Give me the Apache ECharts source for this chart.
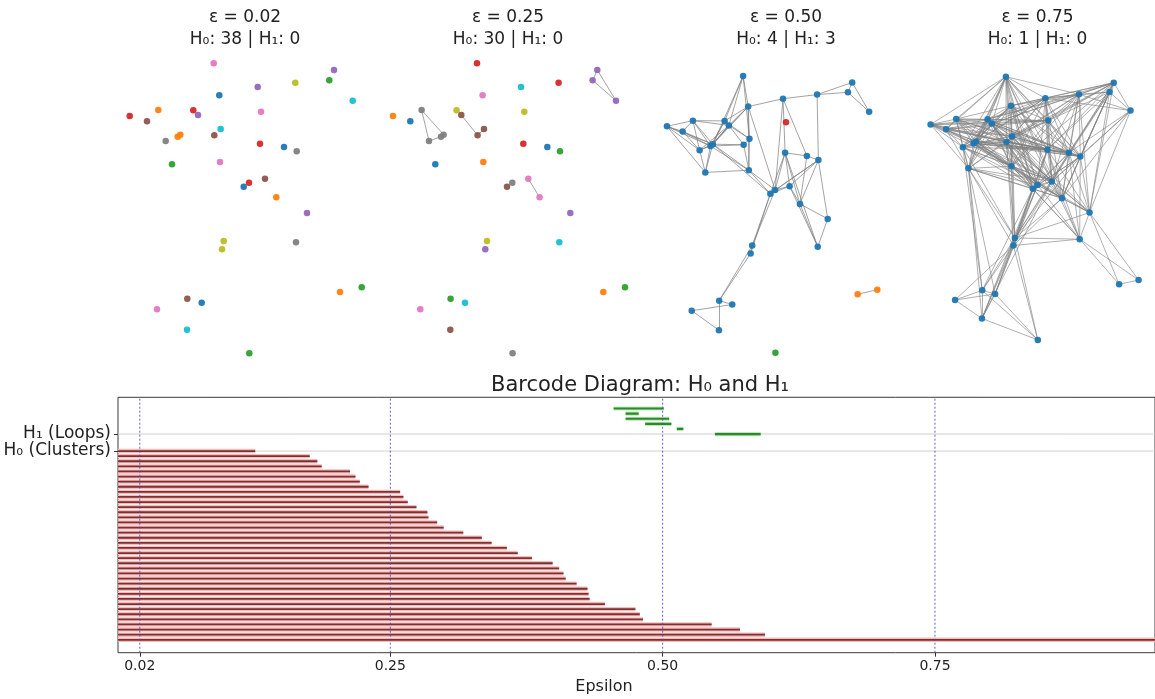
<!DOCTYPE html>
<html>
<head>
<meta charset="utf-8">
<script src="https://cdn.jsdelivr.net/npm/echarts@6/dist/echarts.min.js"></script>
<style>
  html, body { margin: 0; padding: 0; background: #fff; }
  #chart { width: 1155px; height: 699px; }
</style>
</head>
<body>
<div id="chart"></div>
<script>
const FONT = '"DejaVu Sans", sans-serif'
const TAB10 = ['#1f77b4', '#ff7f0e', '#2ca02c', '#d62728', '#9467bd', '#8c564b', '#e377c2', '#7f7f7f', '#bcbd22', '#17becf']

// 2-D layout of the 38 points (same cloud in every panel)
const points = [
  [103.7, 296.7], [224, 290], [185.3, 277.3], [219.3, 279.7], [147.7, 273],
  [109.3, 264.7], [242.7, 259.3], [19.7, 244], [37, 238.7], [48.3, 250],
  [83.3, 249.7], [88, 245], [151, 248.3], [110.7, 231], [55.7, 219],
  [67.7, 223.3], [70.3, 225.3], [104.3, 224.7], [150, 216.3], [174, 213],
  [186.7, 208.7], [62, 195.7], [110, 198], [155, 181.3], [139, 177.3],
  [133.7, 173.3], [166.3, 162.7], [197, 147], [113.7, 119], [112, 110.7],
  [186, 117.7], [230, 68], [251.7, 72.7], [77.3, 61.3], [91.7, 57.3],
  [47, 50.7], [77, 30.3], [139.3, 6.7]
]

const epsilons = [0.02, 0.25, 0.50, 0.75]

// connected-component colour (tab10 index) of each point, per epsilon
const comp002 = [6, 4, 8, 2, 4, 0, 9, 3, 5, 1, 3, 4, 6, 9, 7, 1, 1, 5, 3, 0, 7, 2, 6, 5, 3, 0, 1, 4, 8, 8, 7, 1, 2, 5, 0, 6, 9, 2]
const comp025 = [3, 4, 3, 4, 9, 6, 4, 1, 0, 7, 8, 5, 8, 5, 7, 7, 7, 5, 3, 0, 2, 0, 1, 6, 7, 5, 6, 4, 8, 4, 9, 1, 2, 2, 9, 6, 5, 7]
const comp050 = [0, 0, 0, 0, 0, 0, 0, 0, 0, 0, 0, 0, 3, 0, 0, 0, 0, 0, 0, 0, 0, 0, 0, 0, 0, 0, 0, 0, 0, 0, 0, 1, 1, 0, 0, 0, 0, 2]
const comp075 = [0, 0, 0, 0, 0, 0, 0, 0, 0, 0, 0, 0, 0, 0, 0, 0, 0, 0, 0, 0, 0, 0, 0, 0, 0, 0, 0, 0, 0, 0, 0, 0, 0, 0, 0, 0, 0, 0]

// edges of the Rips graph (1-based point numbers)
const edges002 = []
const edges025 = [[10, 15], [10, 17], [15, 16], [16, 17], [12, 18], [14, 18], [2, 7], [4, 7], [2, 4], [24, 27]]
const edges050 = [
  [1, 6], [1, 11], [1, 12], [1, 14], [1, 17],
  [5, 6], [3, 5], [2, 3], [3, 4], [2, 4], [2, 7], [4, 7],
  [3, 21], [5, 19], [5, 20], [5, 25],
  [6, 14], [6, 23], [6, 12], [6, 11], [6, 17], [6, 16], [6, 25],
  [8, 9], [8, 10], [8, 15], [8, 16], [8, 17], [8, 22],
  [9, 10], [9, 15], [9, 16], [9, 17],
  [10, 11], [10, 12], [10, 15], [10, 16], [10, 17],
  [11, 12], [11, 16], [11, 17], [11, 14],
  [12, 15], [12, 16], [12, 17], [12, 14], [12, 18],
  [14, 18], [14, 23],
  [15, 16], [15, 17], [15, 22],
  [16, 17], [16, 18], [16, 22], [16, 23],
  [17, 18], [17, 22], [17, 23], [17, 26],
  [18, 23],
  [19, 20], [19, 24], [19, 25], [19, 26], [19, 31], [19, 27],
  [20, 21], [20, 27],
  [21, 24], [21, 25], [21, 26], [21, 27], [21, 28],
  [22, 23], [23, 25], [23, 26],
  [24, 25], [24, 26], [24, 27], [24, 31],
  [25, 26], [25, 29], [26, 29], [26, 30],
  [27, 28], [27, 31], [28, 31],
  [29, 30], [29, 34], [30, 34],
  [34, 35], [34, 37], [35, 36], [36, 37],
  [32, 33]
]
// extra edges that appear between 0.50 and 0.75
const edges075Extra = [
  [1, 8], [1, 9], [1, 10], [1, 15], [1, 16], [1, 22], [1, 23], [1, 5], [1, 18], [1, 19], [1, 13], [1, 3],
  [1, 20], [1, 21], [1, 24], [1, 25], [1, 26], [1, 27],
  [2, 5], [2, 13], [2, 21], [2, 19], [2, 20], [3, 7], [3, 20], [4, 21], [4, 20], [7, 21], [5, 7],
  [2, 6], [2, 11], [2, 12], [2, 14], [2, 18], [2, 23], [2, 24], [2, 27], [2, 28],
  [4, 5], [4, 13], [4, 19], [4, 24], [4, 27], [4, 28], [7, 20], [7, 27], [7, 28], [7, 24],
  [3, 13], [3, 19], [3, 24], [3, 6], [3, 12], [3, 11], [3, 27], [3, 28], [3, 23], [3, 18], [3, 14],
  [5, 13], [5, 11], [5, 12], [5, 14], [5, 18], [5, 21], [5, 23], [5, 24], [5, 27], [5, 17], [5, 16],
  [6, 13], [6, 19], [6, 20], [6, 21], [6, 10], [6, 15], [6, 22], [6, 24], [6, 26],
  [8, 11], [8, 12], [8, 14], [8, 18], [8, 23], [8, 19], [8, 13],
  [9, 11], [9, 12], [9, 14], [9, 18], [9, 22], [9, 23], [9, 13], [9, 19],
  [10, 14], [10, 18], [10, 22], [10, 23], [10, 13], [10, 19], [10, 24],
  [11, 13], [11, 15], [11, 18], [11, 19], [11, 22], [11, 23], [11, 25], [11, 20], [11, 21], [11, 24],
  [12, 13], [12, 19], [12, 22], [12, 23], [12, 24], [12, 25], [12, 26], [12, 20], [12, 21],
  [13, 14], [13, 18], [13, 19], [13, 20], [13, 21], [13, 23], [13, 24],
  [14, 15], [14, 16], [14, 19], [14, 20], [14, 21], [14, 24], [14, 25], [14, 26], [14, 22], [14, 27], [14, 28], [14, 29],
  [15, 18], [15, 23], [15, 25], [15, 26], [15, 29], [15, 19], [15, 24], [15, 34],
  [16, 24], [16, 25], [16, 26], [16, 27], [16, 19], [16, 20], [16, 21],
  [17, 24], [17, 25], [17, 27], [17, 19], [17, 21], [17, 20],
  [18, 19], [18, 20], [18, 21], [18, 24], [18, 25], [18, 26], [18, 27], [18, 22], [18, 28], [18, 29], [18, 30],
  [19, 21], [19, 28], [19, 29], [19, 30],
  [20, 24], [20, 25], [20, 26], [20, 28], [20, 31], [20, 29], [21, 31], [21, 29],
  [22, 25], [22, 26], [22, 29], [22, 34], [22, 24], [22, 27], [22, 30], [22, 35], [22, 37],
  [23, 24], [23, 27], [23, 29], [23, 30], [23, 28], [23, 31],
  [24, 28], [24, 29], [24, 30], [24, 37],
  [25, 27], [25, 28], [25, 31], [25, 35], [25, 30],
  [26, 27], [26, 31], [26, 34], [26, 37],
  [27, 29], [27, 30], [28, 29],
  [29, 31], [29, 35], [29, 37], [29, 38],
  [30, 35], [30, 36], [30, 37], [30, 38],
  [28, 32], [28, 33], [31, 32], [31, 33], [30, 31],
  [34, 38], [35, 38], [37, 38], [35, 37], [34, 36]
]
const edges075 = edges050.concat(edges075Extra)

// persistence barcode: H0 bars all born at 0
const h0Death = [
  0.126, 0.176, 0.183, 0.187, 0.213, 0.218, 0.222, 0.230, 0.259, 0.262,
  0.266, 0.274, 0.284, 0.285, 0.293, 0.299, 0.317, 0.334, 0.343, 0.357,
  0.367, 0.380, 0.399, 0.405, 0.409, 0.411, 0.421, 0.431, 0.432, 0.433,
  0.447, 0.475, 0.479, 0.482, 0.545, 0.571, 0.594, Infinity
]
const h1Birth = [0.548, 0.513, 0.484, 0.466, 0.466, 0.455]
const h1Death = [0.590, 0.519, 0.508, 0.506, 0.478, 0.501]

const X_MAX = 0.952
const Y_MIN = -11.86
const Y_MAX = 3.16
const STEP = 0.3

// panel placement (pixels)
const panelGrids = [
  { left: 110, top: 0, width: 270, height: 360 },
  { left: 373.3, top: 0, width: 270, height: 360 },
  { left: 649.1, top: 15.7, width: 244.8, height: 343.4 },
  { left: 912.9, top: 19.2, width: 244.4, height: 326.8 }
]
const panelTitleX = [245, 508, 786, 1037.5]
const panelComps = [comp002, comp025, comp050, comp075]
const panelEdges = [edges002, edges025, edges050, edges075]

const countAlive = (births, deaths, e) => deaths.filter((d, i) => births[i] <= e && d > e).length
const h0Birth = h0Death.map(() => 0)

const grids = panelGrids.map(g => ({ ...g }))
grids.push({ left: 118, right: -10, top: 397.3, bottom: 46.3, show: true, borderColor: '#3a3a3a', borderWidth: 1, backgroundColor: 'transparent' })

const xAxes = panelGrids.map((g, k) => ({ gridIndex: k, type: 'value', min: 0, max: 270, show: false }))
const yAxes = panelGrids.map((g, k) => ({ gridIndex: k, type: 'value', min: 0, max: 360, show: false }))

xAxes.push({
  gridIndex: 4, type: 'value', min: 0, max: X_MAX, position: 'bottom',
  axisLine: { show: false, onZero: false },
  splitLine: { show: false },
  axisTick: { show: true, customValues: epsilons, length: 4, lineStyle: { color: '#333' } },
  axisLabel: { customValues: epsilons, formatter: v => v.toFixed(2), color: '#222', fontFamily: FONT, fontSize: 14, margin: 7 }
})
yAxes.push({
  gridIndex: 4, type: 'value', min: Y_MIN, max: Y_MAX, position: 'left',
  axisLine: { show: false, onZero: false },
  splitLine: { show: false },
  axisTick: { show: true, customValues: [0, 1], length: 4, lineStyle: { color: '#333' } },
  axisLabel: { customValues: [0, 1], formatter: v => (v === 0 ? 'H₀ (Clusters)' : 'H₁ (Loops)'), color: '#222', fontFamily: FONT, fontSize: 17, margin: 7 }
})

const series = []
panelGrids.forEach((g, k) => {
  series.push({
    type: 'lines', coordinateSystem: 'cartesian2d', xAxisIndex: k, yAxisIndex: k,
    silent: true,
    lineStyle: { color: '#808080', width: 1, opacity: k === 3 ? 0.62 : 0.72 },
    data: panelEdges[k].map(([a, b]) => ({ coords: [points[a - 1], points[b - 1]] }))
  })
  series.push({
    type: 'scatter', xAxisIndex: k, yAxisIndex: k,
    symbolSize: 6.5,
    data: points.map((p, i) => ({ value: p, itemStyle: { color: TAB10[panelComps[k][i]], opacity: 0.95 } }))
  })
})

// horizontal reference lines at the H0 / H1 levels
series.push({
  type: 'custom', xAxisIndex: 4, yAxisIndex: 4, silent: true,
  data: [[0], [1]],
  renderItem: (params, api) => {
    const p1 = api.coord([0, api.value(0)])
    const p2 = api.coord([X_MAX, api.value(0)])
    return { type: 'line', shape: { x1: p1[0], y1: p1[1], x2: p2[0], y2: p2[1] }, style: { stroke: '#cfcfcf', lineWidth: 1 } }
  }
})

function barRenderer(halo, core, haloW, coreW) {
  return (params, api) => {
    const y = api.value(2)
    const p1 = api.coord([api.value(0), y])
    const p2 = api.coord([api.value(1), y])
    return {
      type: 'group',
      children: [
        { type: 'line', shape: { x1: p1[0], y1: p1[1], x2: p2[0], y2: p2[1] }, style: { stroke: halo, lineWidth: haloW } },
        { type: 'line', shape: { x1: p1[0], y1: p1[1], x2: p2[0], y2: p2[1] }, style: { stroke: core, lineWidth: coreW } }
      ]
    }
  }
}

series.push({
  type: 'custom', xAxisIndex: 4, yAxisIndex: 4, silent: true, clip: true,
  data: h0Death.map((d, i) => [h0Birth[i], Number.isFinite(d) ? d : X_MAX, -i * STEP]),
  renderItem: barRenderer('#f4bdbd', '#7e2f2e', 4.4, 1.8)
})
series.push({
  type: 'custom', xAxisIndex: 4, yAxisIndex: 4, silent: true, clip: true,
  data: h1Death.map((d, i) => [h1Birth[i], d, 1 + i * STEP]),
  renderItem: barRenderer('#bfe6b8', '#2b8a2b', 4.2, 2.2)
})

// dashed epsilon markers
series.push({
  type: 'custom', xAxisIndex: 4, yAxisIndex: 4, silent: true,
  data: epsilons.map(e => [e]),
  renderItem: (params, api) => {
    const p1 = api.coord([api.value(0), Y_MIN])
    const p2 = api.coord([api.value(0), Y_MAX])
    return { type: 'line', shape: { x1: p1[0], y1: p1[1], x2: p2[0], y2: p2[1] }, style: { stroke: '#4848b8', lineWidth: 1, lineDash: [2, 2], opacity: 0.85 } }
  }
})

const graphics = []
epsilons.forEach((e, k) => {
  const h0 = countAlive(h0Birth, h0Death, e)
  const h1 = countAlive(h1Birth, h1Death, e)
  graphics.push({ type: 'text', x: panelTitleX[k], y: 18, style: { text: 'ε = ' + e.toFixed(2), textAlign: 'center', textVerticalAlign: 'middle', font: '17px ' + FONT, fill: '#222' } })
  graphics.push({ type: 'text', x: panelTitleX[k], y: 40, style: { text: 'H₀: ' + h0 + ' | H₁: ' + h1, textAlign: 'center', textVerticalAlign: 'middle', font: '17px ' + FONT, fill: '#222' } })
})
graphics.push({ type: 'text', x: 640, y: 386, style: { text: 'Barcode Diagram: H₀ and H₁', textAlign: 'center', textVerticalAlign: 'middle', font: '21px ' + FONT, fill: '#222' } })
graphics.push({ type: 'text', x: 604, y: 687, style: { text: 'Epsilon', textAlign: 'center', textVerticalAlign: 'middle', font: '16px ' + FONT, fill: '#222' } })

const chart = echarts.init(document.getElementById('chart'))
chart.setOption({
  backgroundColor: '#fff',
  animation: false,
  grid: grids,
  xAxis: xAxes,
  yAxis: yAxes,
  series: series,
  graphic: graphics
})
</script>
</body>
</html>
